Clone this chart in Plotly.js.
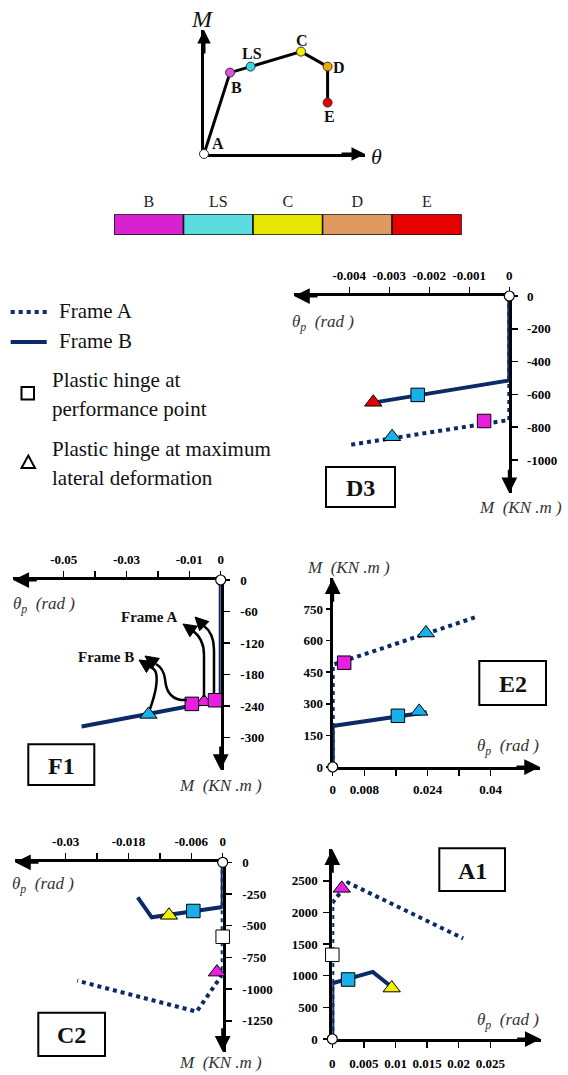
<!DOCTYPE html>
<html>
<head>
<meta charset="utf-8">
<script src="https://cdn.plot.ly/plotly-3.0.1.min.js"></script>
<style>html,body{margin:0;padding:0;background:#fff;}#chart{width:568px;height:1075px;}</style>
</head>
<body>
<div id="chart"></div>
<script>
// ---------------- DATA ----------------
// Schematic moment–rotation curve (conceptual units)
const schemPoints = ['A', 'B', 'LS', 'C', 'D', 'E'];
const schemTheta = [0, 1.3, 2.33, 4.85, 6.18, 6.18];
const schemM = [0, 4.07, 4.37, 5.12, 4.37, 2.57];

// Performance levels (colour key)
const levels = ['B', 'LS', 'C', 'D', 'E'];
const levelUnits = [1, 1, 1, 1, 1];

// Panel D3
const D3_frameA_theta = [0, 0, -0.00402];
const D3_frameA_M = [0, -756, -909];
const D3_frameB_theta = [0, 0, -0.0034];
const D3_frameB_M = [0, -515, -650];
const D3_ppTheta = [-0.00063, -0.00229];   // [Frame A, Frame B]
const D3_ppM = [-762, -603];
const D3_ppLevel = ['B', 'LS'];
const D3_mdTheta = [-0.00293, -0.0034];
const D3_mdM = [-858, -648];
const D3_mdLevel = ['LS', 'E'];
const D3_xTicks = [-0.004, -0.003, -0.002, -0.001, 0];
const D3_xText = ['-0.004', '-0.003', '-0.002', '-0.001', '0'];
const D3_yTicks = [0, -200, -400, -600, -800, -1000];
const D3_yText = ['0', '-200', '-400', '-600', '-800', '-1000'];

// Panel F1
const F1_frameB_theta = [0, 0, -0.0443];
const F1_frameB_M = [0, -229, -279];
const F1_ppTheta = [-0.0018, -0.0092];
const F1_ppM = [-229, -236];
const F1_ppLevel = ['B', 'B'];
const F1_mdTheta = [-0.0053, -0.0230];
const F1_mdM = [-232, -256];
const F1_mdLevel = ['B', 'LS'];
const F1_xTicks = [-0.05, -0.04, -0.03, -0.02, -0.01, 0];
const F1_xText = ['-0.05', ' ', '-0.03', ' ', '-0.01', '0'];
const F1_yTicks = [0, -60, -120, -180, -240, -300];
const F1_yText = ['0', '-60', '-120', '-180', '-240', '-300'];

// Panel E2
const E2_frameA_theta = [0, 0, 0.0365];
const E2_frameA_M = [0, 485, 713];
const E2_frameB_theta = [0, 0, 0.0238];
const E2_frameB_M = [0, 195, 260];
const E2_ppTheta = [0.0029, 0.0165];
const E2_ppM = [495, 243];
const E2_ppLevel = ['B', 'LS'];
const E2_mdTheta = [0.0236, 0.0219];
const E2_mdM = [636, 264];
const E2_mdLevel = ['LS', 'LS'];
const E2_xTicks = [0, 0.008, 0.016, 0.024, 0.032, 0.04];
const E2_xText = ['0', '0.008', ' ', '0.024', ' ', '0.04'];
const E2_yTicks = [0, 150, 300, 450, 600, 750];
const E2_yText = ['0', '150', '300', '450', '600', '750'];

// Panel C2
const C2_frameA_theta = [0, 0, -0.00497, -0.02777];
const C2_frameA_M = [0, -880, -1178, -934];
const C2_frameB_theta = [0, 0, -0.01356, -0.01623];
const C2_frameB_M = [0, -352, -434, -276];
const C2_ppTheta = [0, -0.00561];
const C2_ppM = [-587, -384];
const C2_ppLevel = ['<B', 'LS'];
const C2_mdTheta = [-0.0011, -0.01026];
const C2_mdM = [-866, -418];
const C2_mdLevel = ['B', 'C'];
const C2_xTicks = [-0.03, -0.024, -0.018, -0.012, -0.006, 0];
const C2_xText = ['-0.03', ' ', '-0.018', ' ', '-0.006', '0'];
const C2_yTicks = [0, -250, -500, -750, -1000, -1250];
const C2_yText = ['0', '-250', '-500', '-750', '-1000', '-1250'];

// Panel A1
const A1_frameA_theta = [0, 0, 0.0025, 0.0207];
const A1_frameA_M = [0, 2150, 2470, 1590];
const A1_frameB_theta = [0, 0, 0.0064, 0.0098];
const A1_frameB_M = [0, 880, 1060, 790];
const A1_ppTheta = [0, 0.0025];
const A1_ppM = [1330, 940];
const A1_ppLevel = ['<B', 'LS'];
const A1_mdTheta = [0.0015, 0.0094];
const A1_mdM = [2380, 805];
const A1_mdLevel = ['B', 'C'];
const A1_xTicks = [0, 0.005, 0.01, 0.015, 0.02, 0.025];
const A1_xText = ['0', '0.005', '0.01', '0.015', '0.02', '0.025'];
const A1_yTicks = [0, 500, 1000, 1500, 2000, 2500];
const A1_yText = ['0', '500', '1000', '1500', '2000', '2500'];

// ---------------- STYLE / LAYOUT HELPERS ----------------
const W = 568, H = 1075;
const FONT = 'Liberation Serif';
const NAVY = '#0b2a66';
const barColors = {B: '#d822d0', LS: '#5adbdd', C: '#e6e600', D: '#e0995e', E: '#e60000'};
const markerColors = {'<B': '#ffffff', B: '#e81ee0', LS: '#18b0ea', C: '#f2f200', D: '#f0a000', E: '#e60000'};
const schemColors = {A: '#ffffff', B: '#e050e0', LS: '#30d8e0', C: '#f2f200', D: '#f2a800', E: '#e80000'};

const P = (x, y) => (x / W).toFixed(5) + ',' + (1 - y / H).toFixed(5);
const xd = (a, b) => [a / W, b / W];
const yd = (top, bottom) => [1 - bottom / H, 1 - top / H];

function mkAxis(domain, range, side, anchor, tickvals, ticktext, extra) {
  return Object.assign({
    domain, range, side, anchor,
    showline: true, linecolor: 'black', linewidth: 3,
    ticks: 'outside', ticklen: 6, tickwidth: 1.5, tickcolor: 'black',
    tickmode: 'array', tickvals, ticktext,
    tickfont: {family: FONT, size: 13, color: 'black', weight: 'bold'},
    showgrid: false, zeroline: false, layer: 'below traces', fixedrange: true
  }, extra || {});
}

function arrow(xref, yref, x, y, ax, ay, size) {
  return {xref, yref, x, y, ax, ay, axref: 'pixel', ayref: 'pixel', text: '',
    showarrow: true, arrowhead: 2, arrowsize: size || 1.05, arrowwidth: 3, arrowcolor: 'black'};
}
function txt(x, y, text, size, opts) {
  return Object.assign({xref: 'paper', yref: 'paper', x: x / W, y: 1 - y / H, text,
    showarrow: false, font: {family: FONT, size, color: '#111'}, xanchor: 'center', yanchor: 'middle'}, opts || {});
}

const traces = [];
function panelTraces(xa, ya, fA_t, fA_m, fB_t, fB_m, ppT, ppM, ppL, mdT, mdM, mdL) {
  if (fA_t) traces.push({type: 'scatter', mode: 'lines', x: fA_t, y: fA_m, xaxis: xa, yaxis: ya,
    line: {color: NAVY, width: 4, dash: 'dot'}, cliponaxis: false, hoverinfo: 'skip'});
  traces.push({type: 'scatter', mode: 'lines', x: fB_t, y: fB_m, xaxis: xa, yaxis: ya,
    line: {color: NAVY, width: 4}, cliponaxis: false, hoverinfo: 'skip'});
  traces.push({type: 'scatter', mode: 'markers', x: mdT, y: mdM, xaxis: xa, yaxis: ya,
    marker: {symbol: 'triangle-up', size: 15, color: mdL.map(l => markerColors[l]), line: {color: 'black', width: 1}},
    cliponaxis: false, hoverinfo: 'skip'});
  traces.push({type: 'scatter', mode: 'markers', x: ppT, y: ppM, xaxis: xa, yaxis: ya,
    marker: {symbol: 'square', size: 13.5, color: ppL.map(l => markerColors[l]), line: {color: 'black', width: 1}},
    cliponaxis: false, hoverinfo: 'skip'});
  traces.push({type: 'scatter', mode: 'markers', x: [fB_t[0]], y: [fB_m[0]], xaxis: xa, yaxis: ya,
    marker: {symbol: 'circle', size: 10, color: 'white', line: {color: 'black', width: 1.2}},
    cliponaxis: false, hoverinfo: 'skip'});
}

// schematic
traces.push({type: 'scatter', mode: 'lines+markers', x: schemTheta, y: schemM, xaxis: 'x', yaxis: 'y',
  line: {color: 'black', width: 3},
  marker: {size: 9, color: schemPoints.map(p => schemColors[p]), line: {color: '#333', width: 1}},
  cliponaxis: false, hoverinfo: 'skip'});
// colour key
traces.push({type: 'bar', x: levels, y: levelUnits, xaxis: 'x2', yaxis: 'y2', width: 1,
  marker: {color: levels.map(l => barColors[l]), line: {color: '#111', width: 1.5}}, hoverinfo: 'skip'});

panelTraces('x3', 'y3', D3_frameA_theta, D3_frameA_M, D3_frameB_theta, D3_frameB_M,
  D3_ppTheta, D3_ppM, D3_ppLevel, D3_mdTheta, D3_mdM, D3_mdLevel);
panelTraces('x4', 'y4', null, null, F1_frameB_theta, F1_frameB_M,
  F1_ppTheta, F1_ppM, F1_ppLevel, F1_mdTheta, F1_mdM, F1_mdLevel);
panelTraces('x5', 'y5', E2_frameA_theta, E2_frameA_M, E2_frameB_theta, E2_frameB_M,
  E2_ppTheta, E2_ppM, E2_ppLevel, E2_mdTheta, E2_mdM, E2_mdLevel);
panelTraces('x6', 'y6', C2_frameA_theta, C2_frameA_M, C2_frameB_theta, C2_frameB_M,
  C2_ppTheta, C2_ppM, C2_ppLevel, C2_mdTheta, C2_mdM, C2_mdLevel);
panelTraces('x7', 'y7', A1_frameA_theta, A1_frameA_M, A1_frameB_theta, A1_frameB_M,
  A1_ppTheta, A1_ppM, A1_ppLevel, A1_mdTheta, A1_mdM, A1_mdLevel);

const noTicks = {ticks: '', showticklabels: false};
const layout = {
  width: W, height: H, margin: {l: 0, r: 0, t: 0, b: 0},
  paper_bgcolor: 'white', plot_bgcolor: 'rgba(0,0,0,0)', showlegend: false, bargap: 0,
  font: {family: FONT},
  // schematic
  xaxis: mkAxis(xd(204, 365), [0, 8.05], 'bottom', 'y', [], [], noTicks),
  yaxis: mkAxis(yd(30, 154), [0, 6.2], 'left', 'x', [], [], noTicks),
  // colour key
  xaxis2: {domain: xd(114, 461.7), range: [-0.5, 4.5], side: 'top', anchor: 'y2', showline: false,
    ticks: '', showgrid: false, zeroline: false, ticklabelstandoff: 3,
    tickfont: {family: FONT, size: 16, color: '#222'}, fixedrange: true},
  yaxis2: {domain: yd(214.3, 235), range: [0, 1], anchor: 'x2', visible: false, fixedrange: true},
  // D3
  xaxis3: mkAxis(xd(294, 509.3), [-0.0053825, 0], 'top', 'y3', D3_xTicks, D3_xText, {ticklabelstandoff: 2}),
  yaxis3: mkAxis(yd(296, 493.3), [-1203, 0], 'right', 'x3', D3_yTicks, D3_yText, {ticklabelstandoff: 6}),
  // F1
  xaxis4: mkAxis(xd(13.3, 220.7), [-0.06605, 0], 'top', 'y4', F1_xTicks, F1_xText, {ticklabelstandoff: 2}),
  yaxis4: mkAxis(yd(580, 770), [-361.9, 0], 'right', 'x4', F1_yTicks, F1_yText, {ticklabelstandoff: 8}),
  // E2
  xaxis5: mkAxis(xd(332.7, 540), [0, 0.05248], 'bottom', 'y5', E2_xTicks, E2_xText, {ticklabelstandoff: 2}),
  yaxis5: mkAxis(yd(578.3, 767), [0, 895.6], 'left', 'x5', E2_yTicks, E2_yText, {ticklen: 4, ticklabelstandoff: 0}),
  // C2
  xaxis6: mkAxis(xd(15, 222.7), [-0.03967, 0], 'top', 'y6', C2_xTicks, C2_xText, {ticklabelstandoff: 2}),
  yaxis6: mkAxis(yd(862.3, 1051.7), [-1493.7, 0], 'right', 'x6', C2_yTicks, C2_yText, {ticklabelstandoff: 8}),
  // A1
  xaxis7: mkAxis(xd(332.3, 540.7), [0, 0.03297], 'bottom', 'y7', A1_xTicks, A1_xText, {ticklabelstandoff: 4}),
  yaxis7: mkAxis(yd(849.3, 1039), [0, 2997], 'left', 'x7', A1_yTicks, A1_yText, {ticklabelstandoff: 3}),
  shapes: [],
  annotations: []
};

// axis arrowheads
const A = layout.annotations;
A.push(arrow('x', 'y', 8.05, 0, -25, 0, 0.9), arrow('x', 'y', 0, 6.2, 0, 25, 0.9));
A.push(arrow('x3', 'y3', -0.0053825, 0, 25, 0), arrow('x3', 'y3', 0, -1203, 0, -25));
A.push(arrow('x4', 'y4', -0.06605, 0, 25, 0), arrow('x4', 'y4', 0, -361.9, 0, -25));
A.push(arrow('x5', 'y5', 0.05248, 0, -25, 0), arrow('x5', 'y5', 0, 895.6, 0, 25));
A.push(arrow('x6', 'y6', -0.03967, 0, 25, 0), arrow('x6', 'y6', 0, -1493.7, 0, -25));
A.push(arrow('x7', 'y7', 0.03297, 0, -25, 0), arrow('x7', 'y7', 0, 2997, 0, 25));

// schematic labels
const bold16 = {font: {family: FONT, size: 16, color: '#111', weight: 'bold'}};
A.push(txt(217.7, 144, 'A', 16, bold16), txt(236.7, 87, 'B', 16, bold16), txt(251.7, 53, 'LS', 16, bold16),
  txt(301.7, 40.7, 'C', 16, bold16), txt(339, 68, 'D', 16, bold16), txt(329, 116.7, 'E', 16, bold16));
A.push(txt(202, 19, '<i>M</i>', 24, {font: {family: FONT, size: 24, color: '#111'}}));
A.push(txt(377, 156, '<i>θ</i>', 22, {font: {family: FONT, size: 22, color: '#111'}}));

// legend
const S = layout.shapes;
S.push({type: 'line', xref: 'paper', yref: 'paper', x0: 10.7 / W, x1: 46.7 / W, y0: 1 - 312 / H, y1: 1 - 312 / H,
  line: {color: NAVY, width: 4, dash: 'dot'}});
S.push({type: 'line', xref: 'paper', yref: 'paper', x0: 10.7 / W, x1: 46.7 / W, y0: 1 - 342 / H, y1: 1 - 342 / H,
  line: {color: NAVY, width: 4}});
S.push({type: 'path', xref: 'paper', yref: 'paper', path: `M${P(21.5, 387)} L${P(34, 387)} L${P(34, 399.5)} L${P(21.5, 399.5)} Z`,
  line: {color: 'black', width: 2}, fillcolor: 'white'});
S.push({type: 'path', xref: 'paper', yref: 'paper', path: `M${P(21.5, 468)} L${P(35, 468)} L${P(28.3, 455.5)} Z`,
  line: {color: 'black', width: 2}, fillcolor: 'white'});
const leg = {xanchor: 'left', font: {family: FONT, size: 21, color: '#111'}};
A.push(txt(57, 311, 'Frame A', 21, leg), txt(57, 341, 'Frame B', 21, leg),
  txt(50, 380, 'Plastic hinge at', 21, leg), txt(50, 409, 'performance point', 21, leg),
  txt(50, 449, 'Plastic hinge at maximum', 21, leg), txt(50, 478, 'lateral deformation', 21, leg));

// axis titles
const thetaLbl = '<i>θ<sub>p</sub>  (rad )</i>';
const mLbl = '<i>M  (KN .m )</i>';
const it = {font: {family: FONT, size: 17, color: '#333'}};
A.push(txt(323, 323, thetaLbl, 17, it), txt(520, 508, mLbl, 17, it));
A.push(txt(44, 605, thetaLbl, 17, it), txt(220, 785, mLbl, 17, it));
A.push(txt(508, 747, thetaLbl, 17, it), txt(348, 567, mLbl, 17, it));
A.push(txt(43, 885, thetaLbl, 17, it), txt(220, 1074, mLbl, 16, Object.assign({}, it, {yanchor: 'bottom', yshift: 0})));
A.push(txt(508, 1021, thetaLbl, 17, it));
// keep C2 label fully inside the page
A[A.length - 2].y = 1 - 1074 / H; A[A.length - 2].yanchor = 'bottom';

// panel label boxes
function box(x0, y0, x1, y1, label) {
  S.push({type: 'rect', xref: 'paper', yref: 'paper', x0: x0 / W, x1: x1 / W, y0: 1 - y0 / H, y1: 1 - y1 / H,
    line: {color: 'black', width: 2}, fillcolor: 'white'});
  A.push(txt((x0 + x1) / 2, (y0 + y1) / 2 + 1, label, 24, {font: {family: FONT, size: 24, color: '#111', weight: 'bold'}}));
}
box(326, 467, 395, 507, 'D3');
box(28.3, 744.3, 94.3, 785, 'F1');
box(479.3, 661, 546, 705, 'E2');
box(38.3, 1012.7, 105, 1056, 'C2');
box(439.3, 848.3, 505, 891, 'A1');

// F1 curved call-out arrows
function head(tx, ty, fx, fy) {
  const dx = tx - fx, dy = ty - fy, L = Math.hypot(dx, dy), ux = dx / L, uy = dy / L;
  const len = 13, hw = 6.5, bx = tx - ux * len, by = ty - uy * len;
  return `M${P(tx, ty)} L${P(bx - uy * hw, by + ux * hw)} L${P(bx + uy * hw, by - ux * hw)} Z`;
}
const curves = [
  {p: `M${P(214, 694)} L${P(214, 650)} C${P(214, 638)} ${P(211, 631)} ${P(204, 626)}`, t: [195, 617, 204, 626]},
  {p: `M${P(204, 697)} L${P(204, 655)} C${P(204, 644)} ${P(200, 636)} ${P(193, 631)}`, t: [183, 624, 193, 631]},
  {p: `M${P(187, 700)} L${P(181, 700)} C${P(169, 698)} ${P(166, 689)} ${P(165, 679)} C${P(164, 671)} ${P(161, 667)} ${P(156, 664)}`, t: [145, 656, 156, 664]},
  {p: `M${P(150, 709)} C${P(155, 695)} ${P(158, 681)} ${P(156, 673)} C${P(155, 669)} ${P(153, 668)} ${P(150, 667)}`, t: [139, 660, 150, 667]}
];
curves.forEach(c => {
  S.push({type: 'path', xref: 'paper', yref: 'paper', path: c.p, line: {color: 'black', width: 2.5}, layer: 'above'});
  S.push({type: 'path', xref: 'paper', yref: 'paper', path: head(...c.t), line: {color: 'black', width: 1}, fillcolor: 'black', layer: 'above'});
});
const b15 = {font: {family: FONT, size: 15, color: '#111', weight: 'bold'}};
A.push(txt(149, 617, 'Frame A', 15, b15), txt(106, 657, 'Frame B', 15, b15));

Plotly.newPlot('chart', traces, layout, {staticPlot: true, displayModeBar: false});
</script>
</body>
</html>
